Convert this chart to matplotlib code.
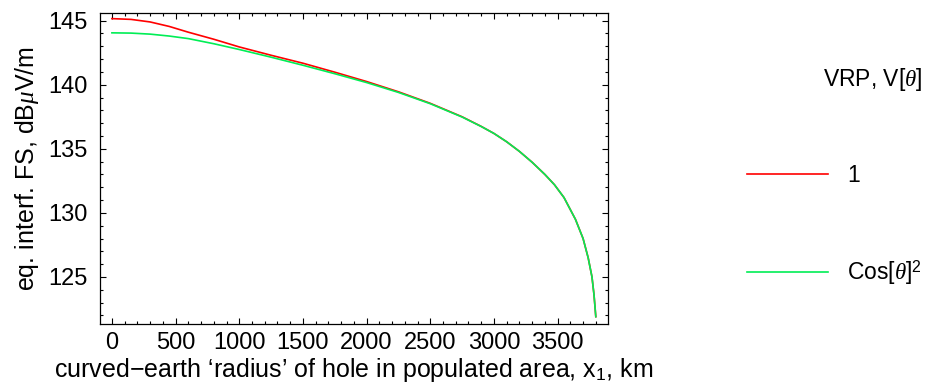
import matplotlib
matplotlib.use("Agg")
import matplotlib.pyplot as plt
from matplotlib.ticker import MultipleLocator

plt.rcParams['font.family'] = ['Liberation Sans', 'DejaVu Sans']
plt.rcParams['mathtext.fontset'] = 'custom'
plt.rcParams['mathtext.rm'] = 'Liberation Sans'
plt.rcParams['mathtext.it'] = 'Liberation Serif:italic'
plt.rcParams['mathtext.bf'] = 'Liberation Sans:bold'

# values
x_km = [0, 150, 300, 450, 600, 800, 1000, 1250, 1500, 1750, 2000, 2250, 2500,
        2750, 2900, 3000, 3100, 3200, 3300, 3400, 3475, 3550, 3640, 3700,
        3740, 3770, 3786, 3800]
fs_one = [145.16, 145.1, 144.9, 144.55, 144.1, 143.55, 142.95, 142.3, 141.68,
          140.98, 140.25, 139.45, 138.55, 137.5, 136.75, 136.2, 135.55, 134.8,
          133.95, 133.0, 132.2, 131.2, 129.5, 128.0, 126.5, 125.0, 123.6, 121.9]
fs_cos2 = [144.05, 144.03, 143.95, 143.8, 143.6, 143.2, 142.75, 142.15, 141.52,
           140.86, 140.17, 139.4, 138.52, 137.48, 136.74, 136.2, 135.55, 134.8,
           133.95, 133.0, 132.2, 131.2, 129.5, 128.0, 126.5, 125.0, 123.6, 121.9]
labels = ["1", r"Cos$[\theta]^2$"]
colors = ["#ff0000", "#00ee55"]

fig = plt.figure(figsize=(9.36, 3.91), dpi=100)
ax = fig.add_axes([0.1068, 0.1714, 0.5428, 0.7954])

ax.plot(x_km, fs_one, color=colors[0], lw=1.2, label=labels[0])
ax.plot(x_km, fs_cos2, color=colors[1], lw=1.2, label=labels[1])

ax.set_xlim(-94, 3896)
ax.set_ylim(121.33, 145.6)
ax.xaxis.set_major_locator(MultipleLocator(500))
ax.xaxis.set_minor_locator(MultipleLocator(100))
ax.yaxis.set_major_locator(MultipleLocator(5))
ax.yaxis.set_minor_locator(MultipleLocator(1))
ax.tick_params(which='both', direction='in', top=True, right=True,
               labelsize=17, width=0.8)
ax.tick_params(which='major', length=4.5)
ax.tick_params(which='minor', length=2.5)
ax.tick_params(axis='x', which='major', pad=6)
ax.tick_params(axis='y', which='major', pad=9)
for s in ax.spines.values():
    s.set_linewidth(0.9)

ax.set_xlabel("curved\u2212earth \u2018radius\u2019 of hole in populated area, x$_1$, km",
              fontsize=18, labelpad=1)
ax.set_ylabel(r"eq. interf. FS, dB$\mu$V/m", fontsize=18, labelpad=5)

leg = fig.legend(loc='upper left', bbox_to_anchor=(0.786, 0.86),
                 title=r"VRP, V$[\theta]$", fontsize=16.5, title_fontsize=16.5,
                 frameon=False, handlelength=3.54, handletextpad=0.83,
                 labelspacing=3.1, alignment='right', borderpad=0)

fig.savefig("out.png", dpi=100)
